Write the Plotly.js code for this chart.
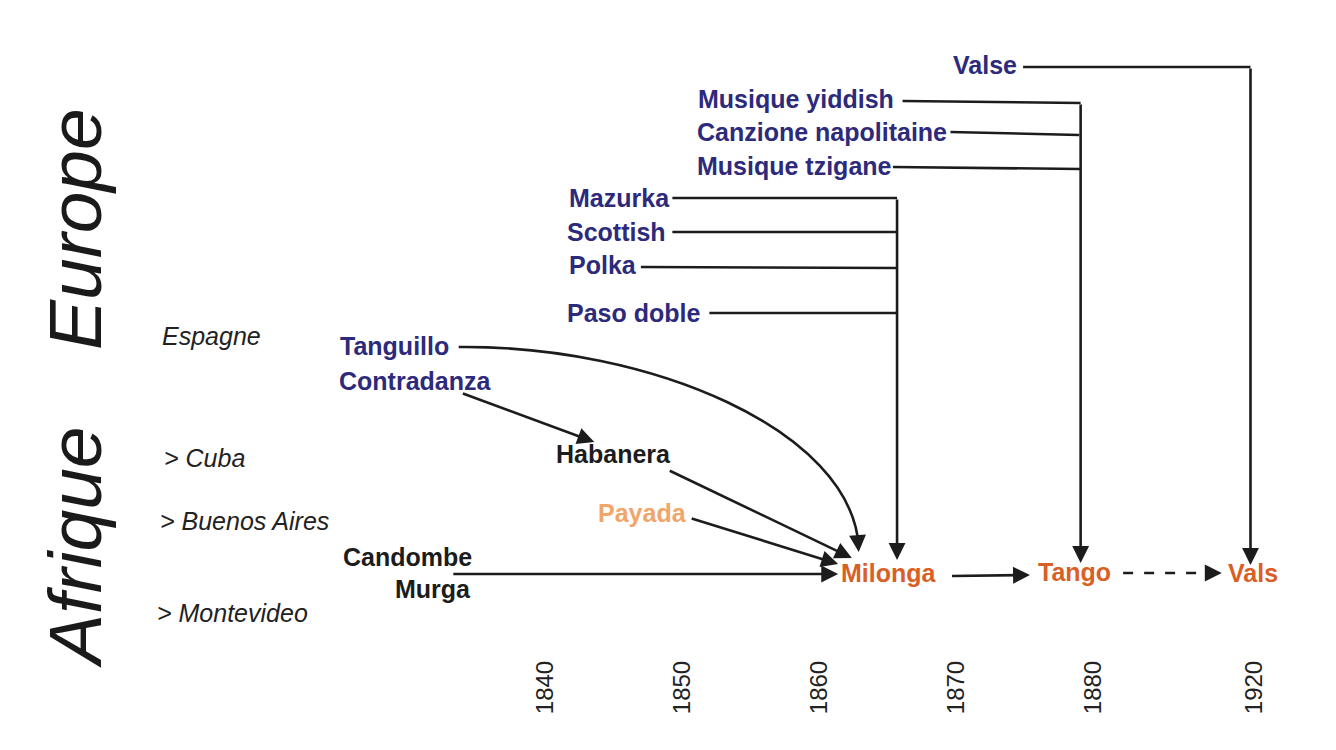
<!DOCTYPE html>
<html>
<head>
<meta charset="utf-8">
<script src="https://cdn.plot.ly/plotly-3.0.1.min.js"></script>
<style>html,body{margin:0;padding:0;background:#fff;}#chart{width:1336px;height:750px;}</style>
</head>
<body>
<div id="chart"></div>
<script>
// ---- Timeline axis (years; 1920 sits on a broken axis after 1880) ----
const tickYears = [1840, 1850, 1860, 1870, 1880, 1891.8];
const tickLabels = ['1840', '1850', '1860', '1870', '1880', '1920'];

// ---- Region and place labels ----
const regionNames = ['Europe', 'Afrique'];
const regionX = [1805.7, 1805.7];
const regionY = [229, 547];

const placeNames = ['Espagne', '> Cuba', '> Buenos Aires', '> Montevideo'];
const placeX = [1812.0, 1812.1, 1811.8, 1811.6];
const placeY = [336, 458, 521, 613];

// ---- Genres (label position: year, row) ----
const genreNames = ['Valse', 'Musique yiddish', 'Canzione napolitaine', 'Musique tzigane',
  'Mazurka', 'Scottish', 'Polka', 'Paso doble', 'Tanguillo', 'Contradanza',
  'Habanera', 'Payada', 'Candombe', 'Murga', 'Milonga', 'Tango', 'Vals'];
const genreX = [1869.7, 1851.1, 1851.0, 1851.0,
  1841.7, 1841.5, 1841.7, 1841.5, 1825.0, 1824.9,
  1840.7, 1843.8, 1825.2, 1834.7, 1861.5, 1875.9, 1889.8];
const genreY = [65, 99, 132, 166, 198, 232, 265, 313, 346, 381, 454, 513, 557, 589, 573, 572, 573];
const genreOrigin = ['europe', 'europe', 'europe', 'europe', 'europe', 'europe', 'europe', 'europe',
  'europe', 'europe', 'cuba', 'payada', 'afrique', 'afrique', 'tango', 'tango', 'tango'];
const genreAnchor = ['left', 'left', 'left', 'left', 'left', 'left', 'left', 'left', 'left', 'left',
  'left', 'left', 'left', 'right', 'left', 'left', 'left'];

// ---- Branches feeding a trunk (start year, end year, start row, end row) ----
const branchFrom = ['Valse', 'Musique yiddish', 'Canzione napolitaine', 'Musique tzigane',
  'Mazurka', 'Scottish', 'Polka', 'Paso doble'];
const branchX0 = [1874.9, 1866.1, 1869.6, 1865.4, 1849.3, 1849.3, 1847.0, 1852.0];
const branchX1 = [1891.5, 1879.1, 1879.0, 1879.1, 1865.7, 1865.7, 1865.7, 1865.7];
const branchY0 = [67, 101, 132, 167, 198, 232, 267, 313];
const branchY1 = [67, 103, 135, 169, 198, 232, 268, 313];

// ---- Trunks (vertical arrows down to a genre) ----
const trunkTo = ['Vals', 'Tango', 'Milonga'];
const trunkX = [1891.5, 1879.1, 1865.7];
const trunkTop = [67, 103, 198];
const trunkTip = [565, 563, 560];

// ---- Straight arrows ----
const arrowFrom = ['Contradanza', 'Habanera', 'Payada', 'Candombe/Murga', 'Milonga', 'Tango'];
const arrowTo = ['Habanera', 'Milonga', 'Milonga', 'Milonga', 'Tango', 'Vals'];
const arrowX0 = [1833.9, 1849.0, 1850.6, 1833.2, 1869.6, 1882.2];
const arrowY0 = [393, 470, 518, 574, 576, 573];
const arrowX1 = [1843.6, 1862.4, 1861.4, 1861.4, 1875.4, 1889.4];
const arrowY1 = [442, 558, 564, 574, 575, 573];
const arrowDashed = [false, false, false, false, false, true];

// ---- Curved arrow Tanguillo -> Milonga (cubic Bezier: start, c1, c2, end) ----
const curveX = [1833.7, 1847.7, 1862.3, 1862.9];
const curveY = [347, 345, 430, 552];

const colors = {europe: '#2d2a7b', cuba: '#1c1c1c', payada: '#f0a56a', afrique: '#1c1c1c', tango: '#d95f27'};
const LINE = '#1c1c1c';
const FONT = 'Liberation Sans, Arial, Helvetica, sans-serif';

const traces = [];
const annotations = [];
const shapes = [];

// branches
for (let i = 0; i < branchFrom.length; i++) {
  traces.push({x: [branchX0[i], branchX1[i]], y: [branchY0[i], branchY1[i]], mode: 'lines',
    line: {color: LINE, width: 2.6}, hoverinfo: 'skip', showlegend: false});
}
// dashed arrow line bodies as traces
for (let i = 0; i < arrowFrom.length; i++) {
  if (arrowDashed[i]) {
    traces.push({x: [arrowX0[i], arrowX1[i] - 1.2], y: [arrowY0[i], arrowY1[i]], mode: 'lines',
      line: {color: LINE, width: 2.6, dash: '10px,11px'}, hoverinfo: 'skip', showlegend: false});
  }
}

function arrow(x0, y0, x1, y1) {
  annotations.push({x: x1, y: y1, ax: x0, ay: y0, xref: 'x', yref: 'y', axref: 'x', ayref: 'y',
    text: '', showarrow: true, arrowhead: 2, arrowsize: 1.3, arrowwidth: 2.6, arrowcolor: LINE,
    standoff: 0, startstandoff: 0});
}
for (let i = 0; i < trunkTo.length; i++) arrow(trunkX[i], trunkTop[i], trunkX[i], trunkTip[i]);
for (let i = 0; i < arrowFrom.length; i++) {
  if (arrowDashed[i]) arrow(arrowX1[i] - 1.2, arrowY1[i], arrowX1[i], arrowY1[i]);
  else arrow(arrowX0[i], arrowY0[i], arrowX1[i], arrowY1[i]);
}

// curve
shapes.push({type: 'path', xref: 'x', yref: 'y',
  path: `M${curveX[0]},${curveY[0]} C${curveX[1]},${curveY[1]} ${curveX[2]},${curveY[2]} ${curveX[3]},${curveY[3] - 6}`,
  line: {color: LINE, width: 2.6}});
arrow(curveX[3] - 0.05, curveY[3] - 10, curveX[3], curveY[3]);

// genre labels
for (let i = 0; i < genreNames.length; i++) {
  annotations.push({x: genreX[i], y: genreY[i], xref: 'x', yref: 'y', text: '<b>' + genreNames[i] + '</b>',
    showarrow: false, xanchor: genreAnchor[i], yanchor: 'middle', borderpad: 0,
    font: {family: FONT, size: 25, color: colors[genreOrigin[i]]}});
}
// place labels
for (let i = 0; i < placeNames.length; i++) {
  annotations.push({x: placeX[i], y: placeY[i], xref: 'x', yref: 'y', text: '<i>' + placeNames[i] + '</i>',
    showarrow: false, xanchor: 'left', yanchor: 'middle', borderpad: 0,
    font: {family: FONT, size: 25, color: '#222222'}});
}
// region labels
for (let i = 0; i < regionNames.length; i++) {
  annotations.push({x: regionX[i], y: regionY[i], xref: 'x', yref: 'y', text: '<i>' + regionNames[i] + '</i>',
    showarrow: false, textangle: -90, xanchor: 'center', yanchor: 'middle', borderpad: 0,
    font: {family: FONT, size: 75, color: '#1a1a1a', weight: 300}});
}

const layout = {
  width: 1336, height: 750,
  margin: {l: 0, r: 0, t: 0, b: 95, pad: 0},
  paper_bgcolor: '#ffffff', plot_bgcolor: '#ffffff',
  showlegend: false,
  xaxis: {range: [1800.22, 1897.74], tickvals: tickYears, ticktext: tickLabels, tickangle: -90,
    showgrid: false, zeroline: false, showline: false, ticks: '', fixedrange: true,
    tickfont: {family: FONT, size: 24, color: '#222222'}},
  yaxis: {range: [655, 0], visible: false, showgrid: false, zeroline: false, fixedrange: true},
  annotations: annotations,
  shapes: shapes
};

Plotly.newPlot('chart', traces, layout, {displayModeBar: false, staticPlot: true});
</script>
</body>
</html>
